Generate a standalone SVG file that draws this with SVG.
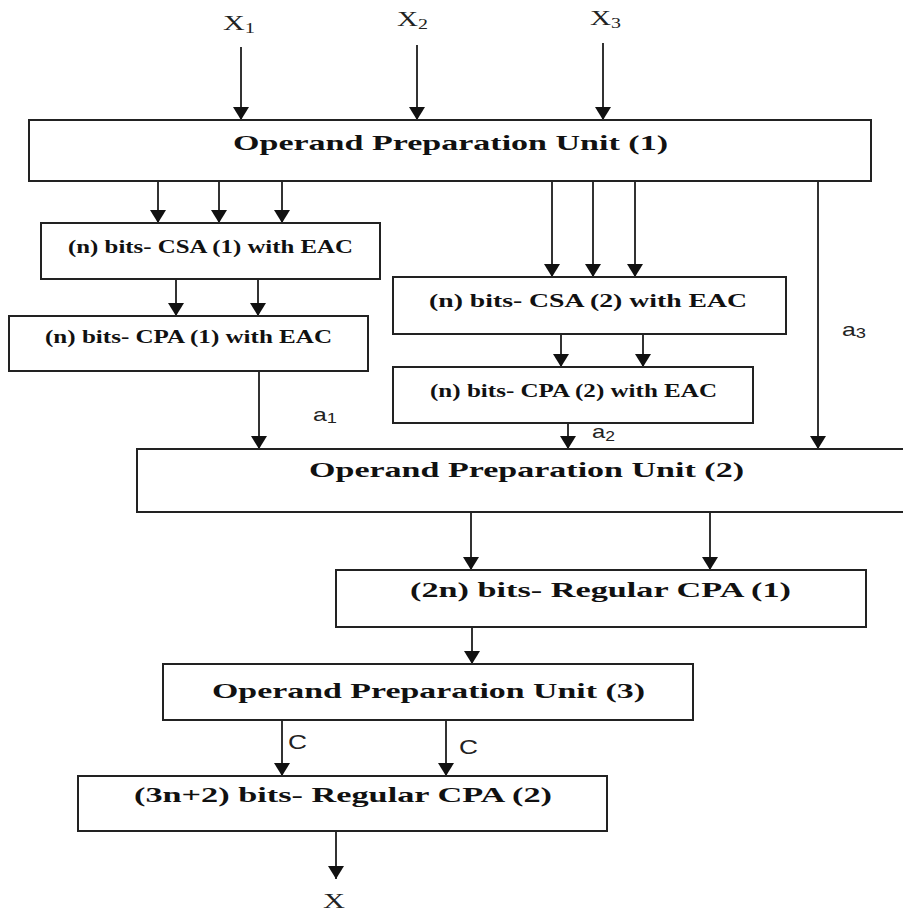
<svg xmlns="http://www.w3.org/2000/svg" width="903" height="912" viewBox="0 0 903 912">
<style>
.box{fill:#fff;stroke:#222;stroke-width:2}
.big{font-family:"Liberation Serif","Times New Roman",serif;font-weight:bold;font-size:21px;fill:#111}
.small{font-family:"Liberation Serif","Times New Roman",serif;font-weight:bold;font-size:19px;fill:#111}
.lbl{font-family:"Liberation Serif","Times New Roman",serif;font-size:22px;fill:#222}
.sub{font-size:15px}
.sans{font-family:"Liberation Sans",Arial,sans-serif;font-size:19px;fill:#222}
.sans .sub{font-size:14px}
.cl{font-family:"Liberation Sans",Arial,sans-serif;font-size:21px;fill:#222}
.conn line{stroke:#333;stroke-width:2;marker-end:url(#ah)}
</style>
<defs>
<marker id="ah" markerUnits="userSpaceOnUse" markerWidth="13" markerHeight="16" viewBox="0 0 13 16" refX="13" refY="8" orient="auto">
<path d="M0,0 L13,8 L0,16 z" fill="#111"/>
</marker>
</defs>
<rect width="903" height="912" fill="#fff"/>
<g id="labels">
<text class="lbl" x="223" y="30" textLength="32" lengthAdjust="spacingAndGlyphs">X<tspan class="sub" dy="3">1</tspan></text>
<text class="lbl" x="397" y="26" textLength="31" lengthAdjust="spacingAndGlyphs">X<tspan class="sub" dy="3">2</tspan></text>
<text class="lbl" x="590" y="25" textLength="31" lengthAdjust="spacingAndGlyphs">X<tspan class="sub" dy="3">3</tspan></text>
<text class="sans" x="313" y="421" textLength="24" lengthAdjust="spacingAndGlyphs">a<tspan class="sub" dy="2">1</tspan></text>
<text class="sans" x="592" y="438" textLength="23" lengthAdjust="spacingAndGlyphs">a<tspan class="sub" dy="3">2</tspan></text>
<text class="sans" x="842" y="336" textLength="24" lengthAdjust="spacingAndGlyphs">a<tspan class="sub" dy="2">3</tspan></text>
<text class="cl" x="288" y="749" textLength="19" lengthAdjust="spacingAndGlyphs">C</text>
<text class="cl" x="459" y="754" textLength="19" lengthAdjust="spacingAndGlyphs">C</text>
<text class="lbl" x="323" y="908" textLength="22" lengthAdjust="spacingAndGlyphs">X</text>
</g>
<g id="opu1"><rect class="box" x="29" y="120" width="842" height="61"/><text class="big" x="233" y="150" textLength="435" lengthAdjust="spacingAndGlyphs">Operand Preparation Unit (1)</text></g>
<g id="csa1"><rect class="box" x="41" y="223" width="339" height="56"/><text class="small" x="68" y="253" textLength="285" lengthAdjust="spacingAndGlyphs">(n) bits- CSA (1) with EAC</text></g>
<g id="cpa1"><rect class="box" x="9" y="316" width="359" height="55"/><text class="small" x="45" y="343" textLength="287" lengthAdjust="spacingAndGlyphs">(n) bits- CPA (1) with EAC</text></g>
<g id="csa2"><rect class="box" x="393" y="277" width="393" height="57"/><text class="small" x="429" y="307" textLength="318" lengthAdjust="spacingAndGlyphs">(n) bits- CSA (2) with EAC</text></g>
<g id="cpa2"><rect class="box" x="393" y="367" width="360" height="56"/><text class="small" x="430" y="397" textLength="287" lengthAdjust="spacingAndGlyphs">(n) bits- CPA (2) with EAC</text></g>
<g id="opu2"><rect class="box" x="137" y="449" width="790" height="63"/><text class="big" x="309" y="477" textLength="435" lengthAdjust="spacingAndGlyphs">Operand Preparation Unit (2)</text></g>
<g id="rcpa1"><rect class="box" x="336" y="570" width="530" height="57"/><text class="big" x="410" y="597" textLength="381" lengthAdjust="spacingAndGlyphs">(2n) bits- Regular CPA (1)</text></g>
<g id="opu3"><rect class="box" x="163" y="664" width="530" height="56"/><text class="big" x="212" y="698" textLength="433" lengthAdjust="spacingAndGlyphs">Operand Preparation Unit (3)</text></g>
<g id="rcpa2"><rect class="box" x="78" y="776" width="529" height="55"/><text class="big" x="134" y="802" textLength="418" lengthAdjust="spacingAndGlyphs">(3n+2) bits- Regular CPA (2)</text></g>
<g id="connectors" class="conn">
<line x1="241" y1="47" x2="241" y2="120"/>
<line x1="417" y1="45" x2="417" y2="120"/>
<line x1="603" y1="43" x2="603" y2="120"/>
<line x1="158" y1="182" x2="158" y2="223"/>
<line x1="219" y1="182" x2="219" y2="223"/>
<line x1="282" y1="182" x2="282" y2="223"/>
<line x1="552" y1="182" x2="552" y2="277"/>
<line x1="593" y1="182" x2="593" y2="277"/>
<line x1="635" y1="182" x2="635" y2="277"/>
<line x1="176" y1="280" x2="176" y2="316"/>
<line x1="258" y1="280" x2="258" y2="316"/>
<line x1="561" y1="335" x2="561" y2="367"/>
<line x1="643" y1="335" x2="643" y2="367"/>
<line x1="259" y1="372" x2="259" y2="449"/>
<line x1="568" y1="424" x2="568" y2="449"/>
<line x1="818" y1="182" x2="818" y2="449"/>
<line x1="471" y1="513" x2="471" y2="570"/>
<line x1="710" y1="513" x2="710" y2="570"/>
<line x1="472" y1="628" x2="472" y2="664"/>
<line x1="282" y1="721" x2="282" y2="776"/>
<line x1="446" y1="721" x2="446" y2="776"/>
<line x1="336" y1="832" x2="336" y2="879"/>
</g>
</svg>
